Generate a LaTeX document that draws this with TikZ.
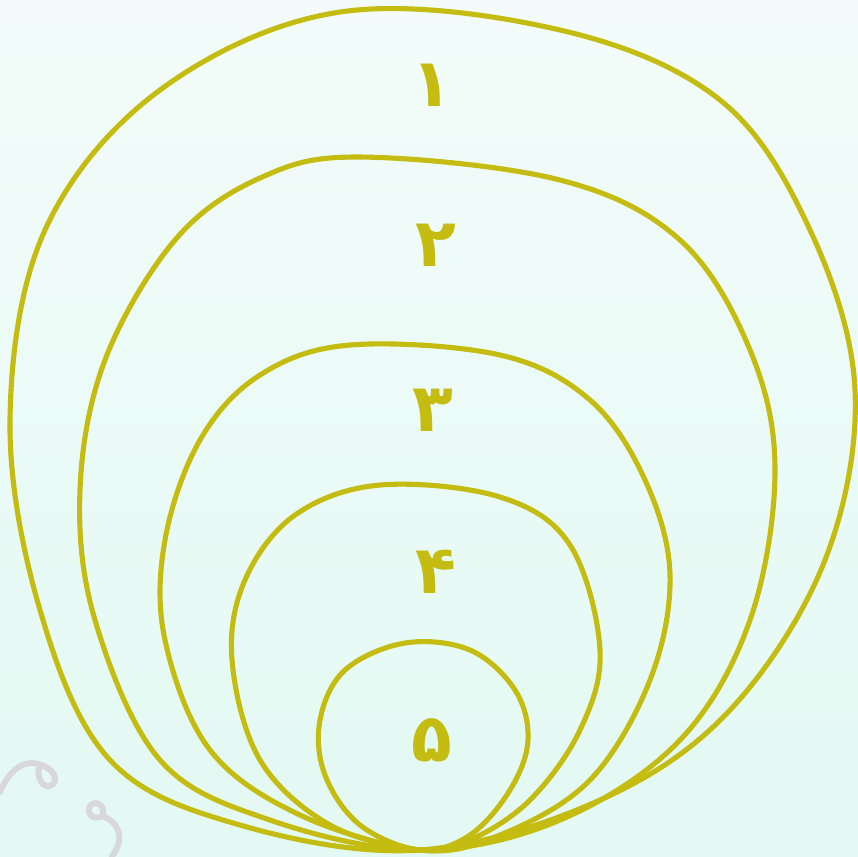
\documentclass[tikz,border=0pt]{standalone}
\usepackage{fontspec}
\newfontfamily\arabicfont[Script=Arabic]{DejaVu Sans}
\usepackage{tikz}
\usetikzlibrary{positioning}
\definecolor{ring}{HTML}{C4BC10}
\definecolor{squig}{HTML}{D8D8DA}
\definecolor{bgtop}{HTML}{F3FCFA}
\definecolor{bgbot}{HTML}{E3F9F3}

\begin{document}
\begin{tikzpicture}[x=0.01cm, y=-0.01cm, ringline/.style={draw=ring, line width=1.45pt, line join=round}, squigline/.style={draw=squig, line width=1.7pt, line cap=round}, lbl/.style={font=\arabicfont\bfseries\fontsize{19}{19}\selectfont, text=ring, inner sep=0pt}]
\useasboundingbox (0,0) rectangle (858,856);
\shade[top color=bgtop, bottom color=bgbot] (0,0) rectangle (858,856);
% decoration bottom left
\draw[squigline] (0,792) .. controls (10,768) and (25,760) .. (38,764) .. controls (55,768) and (60,782) .. (50,786) .. controls (40,788) and (36,772) .. (40,766);
\draw[squigline] (112,856) .. controls (125,840) and (120,822) .. (102,816) .. controls (92,822) and (84,810) .. (92,804) .. controls (100,800) and (106,810) .. (102,816);
% rings
\path[ringline] plot[smooth cycle, tension=0.6] coordinates {(420,850) (240,825) (110,760) (40,610) (10,420) (45,230) (160,90) (340,12) (560,30) (720,100) (810,230) (855,390) (825,560) (730,710) (600,800)};
\path[ringline] plot[smooth cycle, tension=0.6] coordinates {(420,850) (270,820) (160,760) (95,620) (80,490) (105,360) (175,240) (260,178) (360,157) (560,180) (680,240) (750,350) (775,470) (750,620) (680,740) (560,820)};
\path[ringline] plot[smooth cycle, tension=0.6] coordinates {(420,850) (300,815) (210,750) (165,640) (165,540) (200,440) (260,375) (350,345) (500,355) (590,400) (645,480) (670,575) (650,680) (590,780) (500,835)};
\path[ringline] plot[smooth cycle, tension=0.6] coordinates {(420,850) (330,825) (260,760) (232,660) (245,580) (295,515) (380,485) (500,497) (570,545) (600,650) (580,730) (530,800) (470,840)};
\path[ringline] plot[smooth cycle, tension=0.6] coordinates {(420,850) (360,825) (325,775) (320,720) (345,670) (405,643) (470,650) (515,690) (528,740) (510,790) (470,835)};
% labels
\node[lbl] (n1) at (432,85) {۱};
\node[lbl] (n2) at (436,245) {۲};
\node[lbl] (n3) at (433,410) {۳};
\node[lbl] (n4) at (436,572) {۴};
\node[lbl] (n5) at (432,740) {۵};
\end{tikzpicture}
\end{document}
